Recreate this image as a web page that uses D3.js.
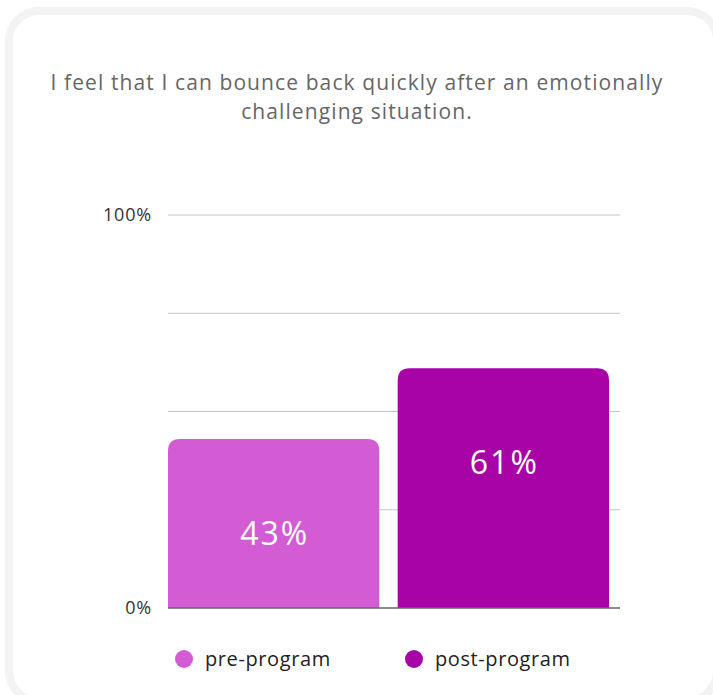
<!DOCTYPE html>
<html>
<head>
<meta charset="utf-8">
<script src="https://cdn.jsdelivr.net/npm/d3@7"></script>
<style>
  html, body { margin: 0; padding: 0; background: #fff; }
  body { width: 713px; height: 695px; overflow: hidden; }
  text { font-family: "Open Sans", "DejaVu Sans", sans-serif; }
</style>
</head>
<body>
<div id="chart"></div>
<script>
// data
const categories = ["pre-program", "post-program"];
const values = [43, 61];
const colors = ["#d35cd5", "#a703a7"];
const tickValues = [0, 25, 50, 75, 100];
const tickLabels = ["0%", "", "", "", "100%"];
const titleLines = ["I feel that I can bounce back quickly after an emotionally", "challenging situation."];

const W = 713, H = 695;

const svg = d3.select("#chart")
    .append("svg")
    .attr("width", W)
    .attr("height", H);

// card background with light border
svg.append("rect")
    .attr("x", 9)
    .attr("y", 11)
    .attr("width", 708)
    .attr("height", 690)
    .attr("rx", 30)
    .attr("fill", "#fff")
    .attr("stroke", "#f3f3f3")
    .attr("stroke-width", 8);

// title (letter-spacing widens the fallback font towards the original)
svg.append("g")
    .selectAll("text")
    .data(titleLines)
    .enter()
    .append("text")
    .attr("x", 357)
    .attr("y", (d, i) => 90 + i * 29)
    .attr("text-anchor", "middle")
    .attr("fill", "#666")
    .style("font-size", "21px")
    .style("letter-spacing", "1.1px")
    .text(d => d);

// plot area
const margin = { top: 215, left: 168 },
    width = 620 - 168,
    height = 608 - 215;

const g = svg.append("g")
    .attr("transform", "translate(" + margin.left + "," + margin.top + ")");

// bars end before the right edge of the grid
const x = d3.scaleBand()
    .domain(categories)
    .range([0, 441])
    .paddingInner(0.08)
    .paddingOuter(0);

const y = d3.scaleLinear()
    .domain([0, 100])
    .range([height, 0]);

// grid lines
g.append("g")
    .selectAll("line")
    .data(tickValues.filter(d => d > 0))
    .enter()
    .append("line")
    .attr("x1", 0)
    .attr("x2", width)
    .attr("y1", d => y(d))
    .attr("y2", d => y(d))
    .attr("stroke", "#c4c4c4")
    .attr("stroke-width", 1);

// y tick labels
g.append("g")
    .selectAll("text")
    .data(tickValues)
    .enter()
    .append("text")
    .attr("x", -16)
    .attr("y", d => y(d))
    .attr("dy", "0.35em")
    .attr("text-anchor", "end")
    .attr("fill", "#333")
    .style("font-size", "18px")
    .style("letter-spacing", "0.8px")
    .text((d, i) => tickLabels[i]);

// bars with rounded top corners
const r = 12;
function barPath(x0, w, yTop, yBase) {
    return "M" + x0 + "," + yBase +
        "V" + (yTop + r) +
        "Q" + x0 + "," + yTop + " " + (x0 + r) + "," + yTop +
        "H" + (x0 + w - r) +
        "Q" + (x0 + w) + "," + yTop + " " + (x0 + w) + "," + (yTop + r) +
        "V" + yBase + "Z";
}

g.append("g")
    .selectAll("path")
    .data(values)
    .enter()
    .append("path")
    .attr("d", (d, i) => barPath(x(categories[i]), x.bandwidth(), y(d), y(0)))
    .attr("fill", (d, i) => colors[i]);

// baseline
g.append("line")
    .attr("x1", 0)
    .attr("x2", width)
    .attr("y1", y(0))
    .attr("y2", y(0))
    .attr("stroke", "#666")
    .attr("stroke-width", 1.5);

// value labels
g.append("g")
    .selectAll("text")
    .data(values)
    .enter()
    .append("text")
    .attr("x", (d, i) => x(categories[i]) + x.bandwidth() / 2 + 1)
    .attr("y", d => y(d) + 95)
    .attr("dy", "0.35em")
    .attr("text-anchor", "middle")
    .attr("fill", "#fff")
    .style("font-size", "32px")
    .style("letter-spacing", "2px")
    .text(d => d + "%");

// legend
const legendX = [184, 414];
const legend = svg.append("g")
    .selectAll("g")
    .data(categories)
    .enter()
    .append("g")
    .attr("transform", (d, i) => "translate(" + legendX[i] + ",659)");

legend.append("circle")
    .attr("r", 9)
    .attr("fill", (d, i) => colors[i]);

legend.append("text")
    .attr("x", 21)
    .attr("dy", "0.35em")
    .attr("fill", "#222")
    .style("font-size", "20px")
    .style("letter-spacing", "0.6px")
    .text(d => d);
</script>
</body>
</html>
